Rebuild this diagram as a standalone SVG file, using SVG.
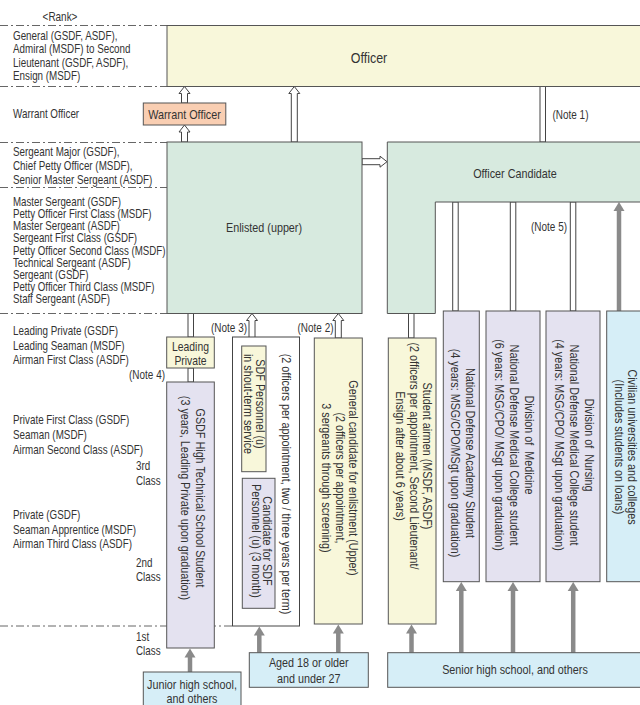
<svg xmlns="http://www.w3.org/2000/svg" width="640" height="705" viewBox="0 0 640 705">
<style>
text{font-family:"Liberation Sans",Arial,sans-serif;fill:#333}
.l{font-size:12px}
.n{font-size:12px}
.t{font-size:13px}
.m{text-anchor:middle}
.e{text-anchor:end}
.bx{stroke:#555;stroke-width:1}
.off{fill:#f8f7da}
.enl{fill:#d7eadf}
.wo{fill:#f9ceb2}
.lav{fill:#e4e2f0}
.blu{fill:#d6eef7}
.dash{stroke:#666;stroke-width:1;fill:none;stroke-dasharray:8 3 2 3}
.ho{fill:#fff;stroke:#444;stroke-width:1}
.dbl{fill:#fff;stroke:#444;stroke-width:1}
.gs{stroke:#8a8a8a;stroke-width:4.5;fill:none}
.gh{fill:#8a8a8a}
</style>

<g id="rank-scale">
<text class="l m" transform="translate(60,20.5) scale(.83,1)">&lt;Rank&gt;</text>
<path class="dash" d="M0,25.5H167 M0,86.5H167 M0,142.5H167 M0,187.5H167 M0,313.5H167 M0,626H233"/>
<text class="l" transform="translate(13,39.5) scale(.82,1)">General (GSDF, ASDF),</text>
<text class="l" transform="translate(13,53) scale(.82,1)">Admiral (MSDF) to Second</text>
<text class="l" transform="translate(13,66.5) scale(.82,1)">Lieutenant (GSDF, ASDF),</text>
<text class="l" transform="translate(13,80) scale(.82,1)">Ensign (MSDF)</text>
<text class="l" transform="translate(13,117.5) scale(.82,1)">Warrant Officer</text>
<text class="l" transform="translate(13,155.5) scale(.82,1)">Sergeant Major (GSDF),</text>
<text class="l" transform="translate(13,169.5) scale(.82,1)">Chief Petty Officer (MSDF),</text>
<text class="l" transform="translate(13,183.5) scale(.82,1)">Senior Master Sergeant (ASDF)</text>
<text class="l" transform="translate(13,205.7) scale(.81,1)">Master Sergeant (GSDF)</text>
<text class="l" transform="translate(13,217.9) scale(.81,1)">Petty Officer First Class (MSDF)</text>
<text class="l" transform="translate(13,230.1) scale(.81,1)">Master Sergeant (ASDF)</text>
<text class="l" transform="translate(13,242.3) scale(.81,1)">Sergeant First Class (GSDF)</text>
<text class="l" transform="translate(13,254.5) scale(.81,1)">Petty Officer Second Class (MSDF)</text>
<text class="l" transform="translate(13,266.7) scale(.81,1)">Technical Sergeant (ASDF)</text>
<text class="l" transform="translate(13,278.9) scale(.81,1)">Sergeant (GSDF)</text>
<text class="l" transform="translate(13,291.1) scale(.81,1)">Petty Officer Third Class (MSDF)</text>
<text class="l" transform="translate(13,303.3) scale(.81,1)">Staff Sergeant (ASDF)</text>
<text class="l" transform="translate(13,334.7) scale(.82,1)">Leading Private (GSDF)</text>
<text class="l" transform="translate(13,349.5) scale(.82,1)">Leading Seaman (MSDF)</text>
<text class="l" transform="translate(13,364) scale(.82,1)">Airman First Class (ASDF)</text>
<text class="l" transform="translate(13,424) scale(.82,1)">Private First Class (GSDF)</text>
<text class="l" transform="translate(13,439) scale(.82,1)">Seaman (MSDF)</text>
<text class="l" transform="translate(13,453.5) scale(.82,1)">Airman Second Class (ASDF)</text>
<text class="l" transform="translate(136,470) scale(.82,1)">3rd</text>
<text class="l" transform="translate(136,484.5) scale(.82,1)">Class</text>
<text class="l" transform="translate(13,519) scale(.82,1)">Private (GSDF)</text>
<text class="l" transform="translate(13,533.5) scale(.82,1)">Seaman Apprentice (MSDF)</text>
<text class="l" transform="translate(13,547.5) scale(.82,1)">Airman Third Class (ASDF)</text>
<text class="l" transform="translate(136,566.5) scale(.82,1)">2nd</text>
<text class="l" transform="translate(136,580.5) scale(.82,1)">Class</text>
<text class="l" transform="translate(136,640.5) scale(.82,1)">1st</text>
<text class="l" transform="translate(136,654.5) scale(.82,1)">Class</text>
</g>

<g id="connectors">
<path class="ho" d="M181.5,103V93.5H179L184.5,86.5L190,93.5H187.5V103Z"/>
<path class="ho" d="M181.5,142V132H179L184.5,125L190,132H187.5V142Z"/>
<path class="ho" d="M291.3,142V93.5H288.8L294.3,86.5L299.8,93.5H297.3V142Z"/>
<path class="ho" d="M362,158.7H380V156.2L387,161.7L380,167.2V164.7H362Z"/>
<path class="ho" d="M249,346V320.5H246.5L252,313.5L257.5,320.5H255V346Z"/>
<path class="ho" d="M335.3,338V320.5H332.8L338.3,313.5L343.8,320.5H341.3V338Z"/>
<rect class="dbl" x="540" y="86.5" width="5.5" height="55.5"/>
<rect class="dbl" x="188" y="313.5" width="5.5" height="23.5"/>
<rect class="dbl" x="188" y="368" width="5.5" height="14"/>
<rect class="dbl" x="249" y="471.7" width="5.5" height="6.6"/>
<rect class="dbl" x="408.5" y="313.5" width="5.5" height="24.5"/>
<rect class="dbl" x="452.7" y="202" width="5.5" height="109"/>
<rect class="dbl" x="510.3" y="202" width="5.5" height="109"/>
<rect class="dbl" x="570.3" y="202" width="5.5" height="109"/>
<path class="gs" d="M190,672V657"/><path class="gh" d="M184.5,657.5L190,648.5L195.5,657.5Z"/>
<path class="gs" d="M259.3,652.7V635"/><path class="gh" d="M253.8,635.5L259.3,626.5L264.8,635.5Z"/>
<path class="gs" d="M338.3,652.7V633"/><path class="gh" d="M332.8,633.5L338.3,624.5L343.8,633.5Z"/>
<path class="gs" d="M411.5,652.7V633"/><path class="gh" d="M406,633.5L411.5,624.5L417,633.5Z"/>
<path class="gs" d="M461.3,652.7V591"/><path class="gh" d="M455.8,591L461.3,582L466.8,591Z"/>
<path class="gs" d="M513,652.7V591"/><path class="gh" d="M507.5,591L513,582L518.5,591Z"/>
<path class="gs" d="M573.2,652.7V591"/><path class="gh" d="M567.7,591L573.2,582L578.7,591Z"/>
<path class="gs" d="M619,311V211"/><path class="gh" d="M613.5,211L619,202L624.5,211Z"/>
<text class="n" transform="translate(552.5,119) scale(.83,1)">(Note 1)</text>
<text class="n e" transform="translate(247,331.5) scale(.83,1)">(Note 3)</text>
<text class="n e" transform="translate(333.5,331.5) scale(.83,1)">(Note 2)</text>
<text class="n e" transform="translate(165,379) scale(.83,1)">(Note 4)</text>
<text class="n m" transform="translate(549,231) scale(.83,1)">(Note 5)</text>
</g>

<g id="officer">
<rect class="bx off" x="167" y="25.5" width="480" height="61"/>
<text class="m" transform="translate(369,63) scale(.83,1)" style="font-size:15px">Officer</text>
</g>

<g id="warrant-officer">
<rect class="bx wo" x="143.3" y="103" width="82.5" height="22"/>
<text class="t m" transform="translate(184.5,118.5) scale(.83,1)">Warrant Officer</text>
</g>

<g id="enlisted-upper">
<rect class="bx enl" x="167" y="142" width="195" height="171.5"/>
<text class="t m" transform="translate(264,232) scale(.83,1)">Enlisted (upper)</text>
</g>

<g id="officer-candidate">
<path class="bx enl" d="M387.3,142H647V202H435.3V313.5H387.3Z"/>
<text class="t m" transform="translate(515,177.5) scale(.83,1)">Officer Candidate</text>
</g>

<g id="leading-private">
<rect class="bx off" x="166.7" y="337" width="47.6" height="31"/>
<text class="m" style="font-size:12.5px" transform="translate(190.5,350.5) scale(.83,1)">Leading</text>
<text class="m" style="font-size:12.5px" transform="translate(190.5,364.5) scale(.83,1)">Private</text>
</g>

<g id="gsdf-high-tech">
<rect class="bx lav" x="166.7" y="382" width="47.6" height="266"/>
<text class="t m" transform="translate(196,498) rotate(90) scale(.83,1)">GSDF High Technical School Student</text>
<text class="t m" transform="translate(181,498) rotate(90) scale(.83,1)">(3 years, Leading Private upon graduation)</text>
</g>

<g id="short-term-frame">
<rect x="232.5" y="337" width="67" height="289" fill="#fff" stroke="#444" stroke-width="1"/>
<text class="t m" transform="translate(281.5,484) rotate(90) scale(.83,1)">(2 officers per appointment, two / three years per term)</text>
</g>

<g id="sdf-personnel">
<rect class="bx off" x="241.7" y="346" width="24.3" height="125.7"/>
<text class="t m" transform="translate(255.5,404) rotate(90) scale(.83,1)">SDF Personnel (u)</text>
<text class="t m" transform="translate(243.5,404) rotate(90) scale(.83,1)">in shout-term service</text>
</g>

<g id="candidate-sdf">
<rect class="bx lav" x="242.3" y="478.3" width="32.7" height="130"/>
<text class="t m" transform="translate(263.3,541) rotate(90) scale(.83,1)">Candidate for SDF</text>
<text class="t m" transform="translate(251.5,541) rotate(90) scale(.83,1)">Personnel (u) (3 month)</text>
</g>

<g id="general-candidate">
<rect class="bx off" x="314.3" y="338" width="48" height="286"/>
<text class="t m" transform="translate(349,478) rotate(90) scale(.83,1)">General candidate for enlistment (Upper)</text>
<text class="t m" transform="translate(335.5,478) rotate(90) scale(.83,1)">(2 officers per appointment,</text>
<text class="t m" transform="translate(322,478) rotate(90) scale(.83,1)">3 sergeants through screening)</text>
</g>

<g id="student-airmen">
<rect class="bx off" x="388.3" y="338" width="47.7" height="286"/>
<text class="t m" transform="translate(423,456) rotate(90) scale(.83,1)">Student airmen (MSDF, ASDF)</text>
<text class="t m" transform="translate(409.5,456) rotate(90) scale(.83,1)">(2 officers per appointment, Second Lieutenant/</text>
<text class="t m" transform="translate(396,456) rotate(90) scale(.83,1)">Ensign after about 6 years)</text>
</g>

<g id="nda-student">
<rect class="bx lav" x="443.3" y="311" width="36" height="270.7"/>
<text class="t m" transform="translate(465.5,453) rotate(90) scale(.83,1)">National Defense Academy Student</text>
<text class="t m" transform="translate(451,453) rotate(90) scale(.83,1)">(4 years: MSG/CPO/MSgt upon graduation)</text>
</g>

<g id="ndmc-medicine">
<rect class="bx lav" x="486" y="311" width="54" height="270.7"/>
<text class="t m" transform="translate(524.5,445) rotate(90) scale(.83,1)" xml:space="preserve">Division of  Medicine</text>
<text class="t m" transform="translate(509.5,445) rotate(90) scale(.83,1)">National Defense Medical College student</text>
<text class="t m" transform="translate(494.5,445) rotate(90) scale(.83,1)">(6 years: MSG/CPO/ MSgt upon graduation)</text>
</g>

<g id="ndmc-nursing">
<rect class="bx lav" x="546" y="311" width="54" height="270.7"/>
<text class="t m" transform="translate(584.5,445) rotate(90) scale(.83,1)" xml:space="preserve">Division of  Nursing</text>
<text class="t m" transform="translate(569.5,445) rotate(90) scale(.83,1)">National Defense Medical College student</text>
<text class="t m" transform="translate(554.5,445) rotate(90) scale(.83,1)">(4 years: MSG/CPO/ MSgt upon graduation)</text>
</g>

<g id="civilian-universities">
<rect class="bx blu" x="606.7" y="311" width="40" height="270.7"/>
<text class="t m" transform="translate(627.5,447) rotate(90) scale(.83,1)">Civilian universities and colleges</text>
<text class="t m" transform="translate(614.5,447) rotate(90) scale(.83,1)">(Includes students on loans)</text>
</g>

<g id="junior-high">
<rect class="bx blu" x="143.3" y="672" width="97.7" height="40"/>
<text class="t m" transform="translate(192,689) scale(.83,1)">Junior high school,</text>
<text class="t m" transform="translate(192,703) scale(.83,1)">and others</text>
</g>

<g id="aged-18">
<rect class="bx blu" x="249.3" y="652.7" width="119" height="34.6"/>
<text class="t m" transform="translate(308.8,667) scale(.83,1)">Aged 18 or older</text>
<text class="t m" transform="translate(308.8,683) scale(.83,1)">and under 27</text>
</g>

<g id="senior-high">
<rect class="bx blu" x="387.7" y="652.7" width="260" height="34.6"/>
<text class="t m" transform="translate(515,674) scale(.83,1)">Senior high school, and others</text>
</g>
</svg>
